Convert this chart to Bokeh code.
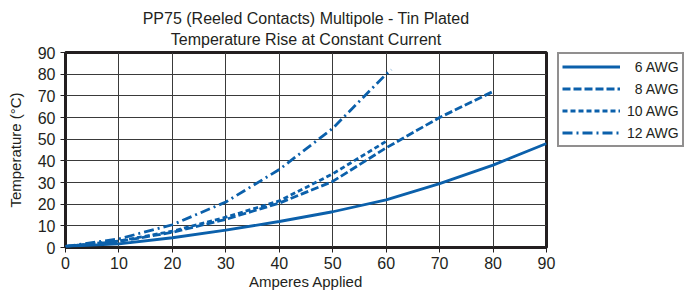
from bokeh.plotting import figure
from bokeh.layouts import row
from bokeh.models import Range1d, FixedTicker, Legend, LegendItem, Title
from bokeh.embed import file_html
from bokeh.resources import INLINE

# ---- texts ----
title_1 = "PP75 (Reeled Contacts) Multipole - Tin Plated"
title_2 = "Temperature Rise at Constant Current"
x_label = "Amperes Applied"
y_label = "Temperature (\u00b0C)"
ticks = [0, 10, 20, 30, 40, 50, 60, 70, 80, 90]

# ---- data ----
amps_6 = [0, 10, 20, 30, 40, 50, 60, 70, 80, 90]
temp_6 = [0.5, 1.7, 4.5, 8.0, 12.0, 16.5, 22.0, 29.5, 38.0, 48.0]

amps_8 = [0, 10, 20, 30, 40, 50, 60, 70, 80]
temp_8 = [0.5, 2.8, 7.0, 13.0, 20.5, 30.5, 46.0, 60.0, 72.0]

amps_10 = [0, 10, 20, 30, 40, 50, 60]
temp_10 = [0.5, 3.0, 7.5, 14.0, 21.5, 34.0, 49.0]

amps_12 = [0, 10, 20, 30, 40, 50, 60, 61]
temp_12 = [0.5, 4.0, 10.5, 21.0, 36.0, 55.0, 80.0, 82.0]

series_names = ["\u20076 AWG", "\u20078 AWG", "10 AWG", "12 AWG"]
series_x = [amps_6, amps_8, amps_10, amps_12]
series_y = [temp_6, temp_8, temp_10, temp_12]
series_dash = ["solid", "8 3", "5 3", "10 4 2 4"]

BLUE = "#0b60ab"
INK = "#231f20"
FONT = "Liberation Sans"
LW = 2.8

# ---------------- main chart ----------------
p = figure(width=556, height=292, output_backend="svg", toolbar_location=None,
           title=None, x_range=Range1d(0, 90), y_range=Range1d(0, 90),
           min_border_left=65, min_border_right=10,
           min_border_top=52, min_border_bottom=45)
p.background_fill_color = "white"
p.border_fill_color = "white"
p.outline_line_color = INK
p.outline_line_width = 3

for ax in (p.xaxis[0], p.yaxis[0]):
    ax.ticker = FixedTicker(ticks=ticks)
    ax.axis_line_color = None
    ax.major_tick_in = 0
    ax.major_tick_out = 5
    ax.major_tick_line_color = INK
    ax.minor_tick_line_color = None
    ax.major_label_text_font = FONT
    ax.major_label_text_font_size = "16px"
    ax.major_label_text_color = INK
    ax.axis_label_text_font = FONT
    ax.axis_label_text_font_size = "15px"
    ax.axis_label_text_font_style = "normal"
    ax.axis_label_text_color = INK

p.xaxis.major_label_standoff = 4
p.xaxis.axis_label = x_label
p.xaxis.axis_label_standoff = 1

p.yaxis.major_label_standoff = 5
p.yaxis.axis_label = y_label
p.yaxis.axis_label_standoff = 11

p.xgrid.ticker = FixedTicker(ticks=ticks)
p.ygrid.ticker = FixedTicker(ticks=ticks)
for g in (p.xgrid[0], p.ygrid[0]):
    g.grid_line_color = "#3a3a3a"
    g.grid_line_width = 1

for xs, ys, dash in zip(series_x, series_y, series_dash):
    p.line(xs, ys, line_color=BLUE, line_width=LW, line_dash=dash)

p.add_layout(Title(text=title_2, align="center", text_font=FONT, text_font_size="16px",
                   text_font_style="normal", text_color=INK, standoff=9, offset=0), "above")
p.add_layout(Title(text=title_1, align="center", text_font=FONT, text_font_size="16px",
                   text_font_style="normal", text_color=INK, standoff=-4, offset=0), "above")

# ---------------- legend panel ----------------
pl = figure(width=135, height=292, output_backend="svg", toolbar_location=None,
            title=None, x_range=Range1d(-2, -1), y_range=Range1d(-2, -1),
            x_axis_location=None, y_axis_location=None,
            min_border_left=1, min_border_right=0, min_border_top=0, min_border_bottom=0)
pl.grid.visible = False
pl.outline_line_color = None
pl.background_fill_color = "white"
pl.border_fill_color = "white"

items = []
for name, xs, ys, dash in zip(series_names, series_x, series_y, series_dash):
    r = pl.line(xs, ys, line_color=BLUE, line_width=LW, line_dash=dash)
    items.append(LegendItem(label=name, renderers=[r]))

legend = Legend(items=items, location="top_left", orientation="vertical")
legend.border_line_color = INK
legend.border_line_width = 2
legend.background_fill_color = "white"
legend.background_fill_alpha = 1
legend.padding = 3
legend.spacing = 3
legend.margin = 0
legend.label_height = 19
legend.glyph_height = 19
legend.glyph_width = 58
legend.label_standoff = 7
legend.label_text_font = FONT
legend.label_text_font_size = "14px"
legend.label_text_color = INK
pl.add_layout(legend, "center")

open("out.html", "w").write(file_html(row(p, pl), INLINE))
